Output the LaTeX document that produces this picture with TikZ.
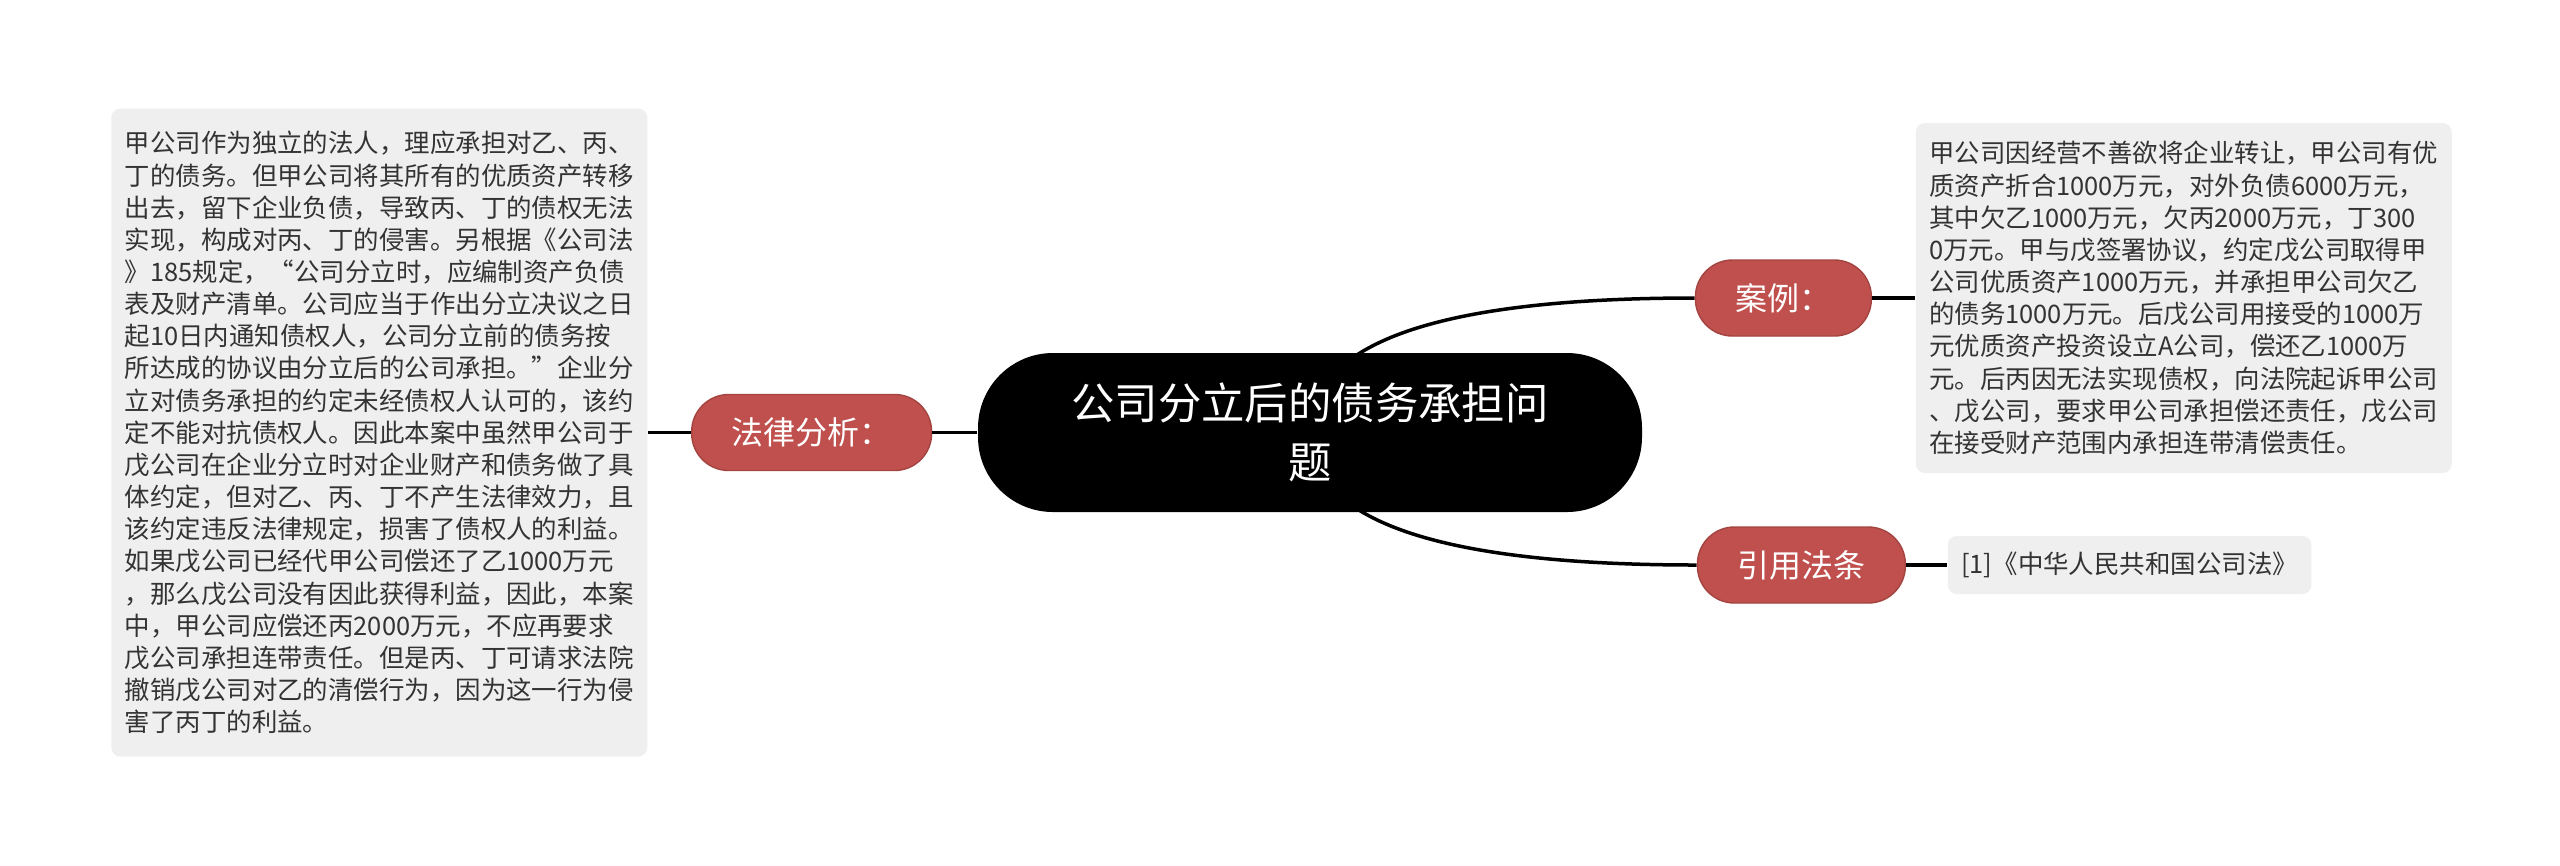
\documentclass[tikz,border=0pt]{standalone}
\usepackage{fontspec}
\setmainfont{Noto Sans CJK SC}
\usepackage{xcolor}
\usepackage{tikz}
\usetikzlibrary{positioning, backgrounds, calc}
\definecolor{pillred}{RGB}{192,80,77}
\definecolor{leafgray}{RGB}{239,239,239}

\begin{document}
\begin{tikzpicture}[
    rootnode/.style={fill=black, text=white, rounded corners=0.75cm, minimum width=6.64cm,
                minimum height=1.59cm, align=center, font=\fontsize{12.35pt}{16.75pt}\selectfont},
    branch/.style={fill=pillred, draw=pillred!85!black, line width=0.4pt, text=white,
                rounded corners=0.37cm, minimum height=0.76cm, inner xsep=0.4cm, inner ysep=0pt,
                font=\fontsize{9.1pt}{11pt}\selectfont},
    leaf/.style={fill=leafgray, text=black!80, rounded corners=0.09cm, align=left,
                inner xsep=0.135cm, inner ysep=0.14cm, font=\fontsize{7.24pt}{9.15pt}\selectfont},
    link/.style={line width=0.035cm},
]
\useasboundingbox (0,0) rectangle (25.6,-8.65);

\node[rootnode] (root) at (13.10,-4.325) {公司分立后的债务承担问\\题};

% Left branch
\node[branch, left=0.45cm of root] (analysis) {法律分析：};
\node[leaf, text width=5.09cm, minimum height=6.48cm, left=0.43cm of analysis] (abox) {甲公司作为独立的法人，理应承担对乙、丙、\\丁的债务。但甲公司将其所有的优质资产转移\\出去，留下企业负债，导致丙、丁的债权无法\\实现，构成对丙、丁的侵害。另根据《公司法\\》185规定，“公司分立时，应编制资产负债\\表及财产清单。公司应当于作出分立决议之日\\起10日内通知债权人，公司分立前的债务按\\所达成的协议由分立后的公司承担。”企业分\\立对债务承担的约定未经债权人认可的，该约\\定不能对抗债权人。因此本案中虽然甲公司于\\戊公司在企业分立时对企业财产和债务做了具\\体约定，但对乙、丙、丁不产生法律效力，且\\该约定违反法律规定，损害了债权人的利益。\\如果戊公司已经代甲公司偿还了乙1000万元\\，那么戊公司没有因此获得利益，因此，本案\\中，甲公司应偿还丙2000万元，不应再要求\\戊公司承担连带责任。但是丙、丁可请求法院\\撤销戊公司对乙的清偿行为，因为这一行为侵\\害了丙丁的利益。};

\draw[link] (abox) -- (analysis);
\draw[link] (analysis) -- (root);

% Right branches
\node[branch, right=0.52cm of root, yshift=1.345cm] (case) {案例：};
\node[leaf, text width=5.09cm, minimum height=3.50cm, right=0.43cm of case] (cbox) {甲公司因经营不善欲将企业转让，甲公司有优\\质资产折合1000万元，对外负债6000万元，\\其中欠乙1000万元，欠丙2000万元，丁300\\0万元。甲与戊签署协议，约定戊公司取得甲\\公司优质资产1000万元，并承担甲公司欠乙\\的债务1000万元。后戊公司用接受的1000万\\元优质资产投资设立A公司，偿还乙1000万\\元。后丙因无法实现债权，向法院起诉甲公司\\、戊公司，要求甲公司承担偿还责任，戊公司\\在接受财产范围内承担连带清偿责任。};

\node[branch, right=0.54cm of root, yshift=-1.325cm] (law) {引用法条};
\node[leaf, minimum height=0.58cm, right=0.41cm of law] (lbox) {[1]《中华人民共和国公司法》};

\draw[link] (case) -- (cbox);
\draw[link] (law) -- (lbox);

\begin{scope}[on background layer]
\draw[link] (root.center) .. controls ($(root.center)!0.667!(root.center |- case.west)$)
    and ($(case.west)!0.667!(root.center |- case.west)$) .. (case.west);
\draw[link] (root.center) .. controls ($(root.center)!0.667!(root.center |- law.west)$)
    and ($(law.west)!0.667!(root.center |- law.west)$) .. (law.west);
\end{scope}

\end{tikzpicture}
\end{document}
